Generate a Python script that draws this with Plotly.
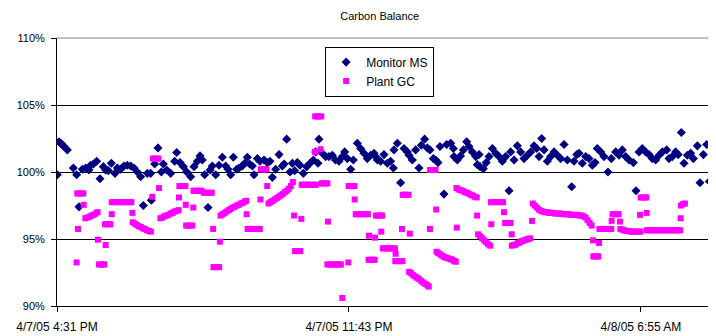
import pandas as pd
import plotly.graph_objects as go

title_text = "Carbon Balance"
start_time = "2005-04-07 16:31"
series_names = ["Monitor MS", "Plant GC"]
tick_minutes = [0, 432, 864]
tick_labels = ["4/7/05 4:31 PM", "4/7/05 11:43 PM", "4/8/05 6:55 AM"]
y_ticks = [90, 95, 100, 105, 110]
y_tick_labels = ["90%", "95%", "100%", "105%", "110%"]

# Monitor MS: minutes after 4:31 PM, value (%)
ms_minutes = [
    0.5, 3, 6.4, 9.4, 15.3, 24.2, 29.1, 32.6, 37.5, 42.4, 47.3, 49.8, 53.8, 58.7, 63.6, 68.6, 72, 76,
    80.4, 85.8, 89.3, 94, 99.1, 104, 109, 113.9, 118.9, 123.8, 127.7, 133.7, 138.6, 139.6, 144.5,
    149.4, 154.4, 157.3, 162.3, 168.2, 174.1, 177.1, 182, 187, 191.9,
    197.8, 202.7, 207.6, 211.6, 215, 218.5, 223.4, 226.4, 229.8, 234.8, 239.7, 244.6, 249.5, 253,
    257, 260.9, 265.8, 269.3, 274.2, 277.7, 281.6, 285, 289, 291.5, 296.4, 300.3, 306.3, 311.2,
    315.1, 318.6, 323.5, 328.5, 333.4, 336, 339.8, 344.7, 348.2, 351.6, 355.6, 359.5, 364.5, 369.4,
    374.3, 379.3, 382.7,
    387.6, 386.1, 392.5, 397.5, 402.4, 407.3, 412, 417.2, 422.1, 425.6, 429.5, 434.5, 438.4, 444.3,
    449.2, 454.2, 459.1, 464, 469, 471.4, 474, 478.8, 483.8, 488.7, 493.6, 497.6, 498.6, 503.5,
    508.4, 513.4, 518.3, 520.8, 525.7, 530.6, 535.5, 539, 543.9, 547.9, 551.8, 556.8, 560.2, 563.7,
    566.6, 572.5, 576.5,
    582.5, 586.4, 587.4, 592.3, 597, 601.2, 606.1, 609.6, 614.5, 619.5, 621.9, 624.4, 625.9, 630.8,
    635, 639.2, 644.1, 649.1, 654, 658.9, 663.8, 668.8, 671.2, 676.2, 681.1, 686, 691, 695.9,
    700.8, 705.8, 709.7, 713.2, 717.1, 720.6, 725.5, 730.4, 735.4, 740.3, 745.2, 750.2, 755.1,
    761.5, 765, 769,
    772.3, 777.2, 782.2, 787.1, 792, 796, 799.4, 804.4, 809.3, 815.2, 820.1, 826.6, 831.5, 836.4,
    841.3, 846.3, 852.7, 856.6, 861.1, 866, 870.9, 875.9, 880.8, 885.7, 890.7, 895.6, 902, 905.5,
    910.4, 915.3, 919, 923.7, 927.7, 932.6, 937.5, 941.5, 947.4, 951.3, 956.3, 961.2, 965.1,
]
ms_values = [
    99.8, 102.25, 102.1, 101.95, 101.65, 100.3, 99.8, 97.4, 100.2, 100.3, 100.15, 100.5, 100.6, 100.8, 99.5, 100.4, 100.15, 100.1,
    100.65, 99.9, 100.3, 100.2, 100.45, 100.5, 100.45, 100.3, 100.0, 99.65, 97.5, 99.9, 99.9, 97.9, 100.6,
    101.8, 100.0, 100.6, 100.15, 99.9, 100.8, 101.45, 100.7, 100.4, 100.0,
    99.65, 100.4, 100.8, 101.2, 100.9, 99.8, 97.35, 100.15, 100.45, 99.8, 100.5, 101.1, 100.45, 100.2,
    99.8, 101.1, 100.2, 100.3, 100.45, 100.65, 101.1, 100.6, 100.45, 99.8, 101.0, 100.8, 100.9, 100.7,
    100.8, 99.6, 100.2, 101.3, 100.45, 100.6, 102.45, 100.0, 100.65, 100.1, 100.7, 100.5, 99.9, 100.4,
    100.65, 100.9, 101.5,
    102.45, 100.65, 101.4, 101.15, 101.15, 101.25, 100.9, 100.8, 101.15, 101.5, 101.0, 100.2, 100.9, 102.15,
    101.75, 101.4, 101.0, 101.25, 101.4, 101.15, 100.9, 100.8, 101.3, 100.65, 100.8, 100.3, 101.65, 102.15,
    99.2, 101.75, 101.5, 101.25, 100.9, 101.65, 100.3, 102.0, 102.45, 101.8, 101.65, 101.0, 100.9, 100.7,
    101.9, 98.35, 102.05,
    102.15, 101.75, 101.15, 100.9, 101.2, 101.65, 102.25, 101.9, 101.5, 101.15, 100.55, 101.3, 100.4, 100.25,
    100.7, 101.15, 101.75, 101.4, 101.15, 100.8, 101.15, 98.6, 101.5, 100.9, 101.95, 101.5, 101.0, 101.25,
    101.5, 101.95, 101.75, 101.15, 102.5, 101.65, 100.8, 101.15, 101.5, 101.25, 101.0, 102.05, 100.9,
    98.9, 100.8, 101.3,
    101.4, 100.65, 101.15, 101.0, 100.5, 100.7, 101.75, 101.5, 101.15, 100.0, 101.0, 101.5, 101.25, 101.65,
    101.15, 100.9, 100.7, 98.6, 101.5, 101.75, 101.5, 101.3, 101.0, 100.9, 101.25, 101.5, 101.65, 101.0,
    101.15, 101.5, 101.3, 102.95, 100.65, 101.25, 101.4, 101.0, 101.95, 99.2, 101.3, 102.05, 99.3,
]

# Plant GC: minutes after 4:31 PM, value (%)
gc_minutes = [
    29, 31, 30, 33, 36, 39, 39.5,
    42, 45, 48, 51, 54, 57, 60, 60.5, 62, 65, 68, 70, 72, 71, 74, 77, 79, 81,
    81, 84, 87, 90, 93, 96, 99, 102, 105, 108, 110, 111.5,
    112, 115, 118, 121, 124, 127, 130, 133, 136, 139, 141,
    142, 145, 148, 150, 151,
    153, 156, 159, 162, 165, 168, 171, 174, 177, 180, 180.5,
    181, 184, 187, 190, 190.5, 191, 194, 197, 200, 201.7,
    202, 205, 208, 211, 214, 217, 220, 223, 226, 229, 231,
    231.5, 234, 237, 240, 241,
    242, 245, 248, 251, 254, 257, 260, 263, 266, 269, 272, 275, 278, 280, 280.6,
    282, 285, 288, 291, 294, 297, 300, 301,
    301.5, 304, 307, 310, 311,
    313, 316, 319, 322, 325, 328, 331, 334, 337, 340, 343, 346, 349, 350.7,
    352, 355, 358, 360, 361.5,
    362, 365, 368, 371, 374, 377, 380, 383, 382.7, 382, 385, 388, 391, 381.7, 390,
    391.5, 394, 397, 400, 400.9,
    400, 403, 406, 409, 412, 415, 418, 420, 422, 431,
    431.5, 434, 437, 440, 440.4,
    442, 445, 448, 451, 454, 457, 460, 461.6,
    461, 464, 467, 470, 470.5,
    472, 475, 478, 481, 479.8,
    482, 485, 488, 491, 494, 497, 500, 501,
    500.5, 503, 506, 509, 511, 510.4,
    511.5, 514, 517, 520, 522,
    521, 524, 527, 530, 533, 536, 539, 542, 545, 548, 550, 551.8,
    552, 555, 558, 560, 561,
    561.5, 564, 567, 570, 573, 576, 579, 582, 585, 588, 590,
    591, 594, 597, 600, 603, 606, 609, 612, 615, 618, 621, 591.5, 621.5,
    623, 626, 629, 632, 635, 638, 641,
    642, 645, 648, 651, 654, 657, 660, 642.6, 661.4,
    663, 666, 669, 671, 672.7,
    673, 676, 679, 682, 685, 688, 691, 694, 697, 700, 702.8,
    704, 707, 710, 713, 716, 719, 722, 725, 728, 731, 734, 737, 740, 743, 746, 749, 752, 755, 758,
    761, 764, 767, 770, 773, 776, 779, 782, 785, 788, 791,
    793, 802, 793.5, 796, 799, 801,
    802.5, 805, 808, 811, 814, 817, 820, 820.6,
    822, 825, 828, 831, 833,
    833.5, 836, 839, 842, 845, 848, 851, 854, 857, 860, 863,
    863.5, 866, 869, 872, 862.6, 872.4,
    872.5, 875, 878, 881, 884, 887, 890, 893, 896, 899, 902, 905, 908, 911, 914, 917, 920, 922, 922.7,
    923, 926, 929,
]
gc_values = [
    93.25, 95.75, 98.4, 98.4, 98.4, 98.4, 97.55,
    96.55, 96.6, 96.65, 96.75, 96.8, 96.9, 97.0, 94.95, 93.1, 93.1, 93.1, 93.1, 94.55, 96.1, 96.1, 96.1, 96.1, 96.85,
    97.75, 97.75, 97.75, 97.75, 97.75, 97.75, 97.75, 97.75, 97.75, 97.75, 97.75, 96.95,
    96.25, 96.15, 96.05, 95.95, 95.9, 95.8, 95.75, 95.65, 95.6, 95.55, 98.15,
    101.0, 101.0, 101.0, 101.0, 98.8,
    96.55, 96.6, 96.7, 96.75, 96.8, 96.9, 96.95, 97.05, 97.1, 97.15, 98.1,
    98.95, 98.95, 98.95, 98.95, 97.55, 96.0, 96.0, 96.0, 96.0, 97.35,
    98.6, 98.6, 98.6, 98.6, 98.6, 98.45, 98.45, 98.45, 98.45, 98.45, 95.75,
    92.9, 92.9, 92.9, 92.9, 94.8,
    96.75, 96.85, 96.95, 97.05, 97.15, 97.25, 97.35, 97.4, 97.5, 97.55, 97.65, 97.7, 97.8, 97.85, 96.85,
    95.75, 95.75, 95.75, 95.75, 95.75, 95.75, 95.75, 97.95,
    100.2, 100.2, 100.2, 100.2, 98.95,
    97.65, 97.75, 97.85, 97.95, 98.05, 98.15, 98.25, 98.35, 98.5, 98.6, 98.75, 98.95, 99.25, 96.75,
    94.1, 94.1, 94.1, 94.1, 96.5,
    99.05, 99.05, 99.05, 99.05, 99.05, 99.05, 99.05, 99.05, 101.5, 104.15, 104.15, 104.15, 104.15, 101.5, 101.7,
    99.15, 99.15, 99.15, 99.15, 96.3,
    93.1, 93.1, 93.1, 93.1, 93.1, 93.1, 93.1, 93.1, 90.6, 93.25,
    98.95, 98.95, 98.95, 98.95, 97.95,
    96.85, 96.85, 96.85, 96.85, 96.85, 96.85, 96.85, 95.25,
    93.45, 93.45, 93.45, 93.45, 95.1,
    96.75, 96.75, 96.75, 96.75, 95.55,
    94.3, 94.3, 94.3, 94.3, 94.3, 94.3, 94.3, 93.9,
    93.35, 93.35, 93.35, 93.35, 93.35, 95.75,
    98.3, 98.3, 98.3, 98.3, 95.4,
    92.55, 92.45, 92.3, 92.2, 92.1, 92.0, 91.85, 91.75, 91.65, 91.55, 91.45, 95.75,
    100.15, 100.15, 100.15, 100.15, 97.2,
    94.05, 93.95, 93.85, 93.75, 93.65, 93.6, 93.55, 93.5, 93.45, 93.35, 93.3,
    98.8, 98.7, 98.65, 98.6, 98.5, 98.45, 98.4, 98.3, 98.25, 98.15, 98.1, 95.85, 96.75,
    95.35, 95.2, 95.05, 94.9, 94.75, 94.6, 94.5,
    97.75, 97.75, 97.75, 97.75, 97.75, 97.75, 97.75, 96.1, 97.0,
    96.2, 96.2, 96.2, 96.2, 95.35,
    94.5, 94.55, 94.6, 94.7, 94.75, 94.85, 94.9, 94.95, 95.0, 95.05, 96.35,
    97.65, 97.5, 97.35, 97.2, 97.1, 97.05, 97.0, 97.0, 96.95, 96.95, 96.95, 96.9, 96.9, 96.9, 96.9, 96.85, 96.85, 96.85, 96.85,
    96.8, 96.8, 96.8, 96.8, 96.75, 96.75, 96.7, 96.6, 96.4, 96.2, 96.0,
    94.9, 94.7, 93.7, 93.7, 93.7, 93.7,
    95.75, 95.75, 95.75, 95.75, 95.75, 95.75, 95.75, 96.35,
    96.85, 96.85, 96.85, 96.85, 96.3,
    95.75, 95.7, 95.65, 95.6, 95.6, 95.55, 95.55, 95.55, 95.55, 95.55, 95.55,
    98.1, 98.1, 98.1, 98.1, 96.8, 96.95,
    95.65, 95.65, 95.65, 95.65, 95.65, 95.65, 95.65, 95.65, 95.65, 95.65, 95.65, 95.65, 95.65, 95.65, 95.65, 95.65, 95.65, 95.65, 96.55,
    97.5, 97.6, 97.65,
]

t0 = pd.Timestamp(start_time)
def to_time(mins):
    return [t0 + pd.Timedelta(minutes=m) for m in mins]

fig = go.Figure()
fig.add_trace(go.Scatter(
    x=to_time(ms_minutes), y=ms_values, mode="markers", name=series_names[0],
    marker=dict(symbol="diamond", size=7, color="#000080"),
))
fig.add_trace(go.Scatter(
    x=to_time(gc_minutes), y=gc_values, mode="markers", name=series_names[1],
    marker=dict(symbol="square", size=6, color="#FF00FF"),
))

font_family = "Liberation Sans, Arial, sans-serif"
# page body has an 8px margin, so the figure is sized/offset to compensate
fig.update_layout(
    width=708, height=328,
    margin=dict(l=49, r=5, t=30, b=30, autoexpand=False),
    paper_bgcolor="white", plot_bgcolor="white",
    title=dict(text=title_text, x=0.525, xanchor="center", y=0.976, yanchor="middle",
               font=dict(family=font_family, size=11, color="black")),
    font=dict(family=font_family, size=11, color="black"),
    showlegend=True,
    legend=dict(x=0.41, y=0.968, xanchor="left", yanchor="top",
                bgcolor="white", bordercolor="black", borderwidth=1,
                font=dict(family=font_family, size=12, color="black"),
                itemwidth=30, tracegroupgap=0),
    xaxis=dict(
        type="date", automargin=False,
        range=[t0, t0 + pd.Timedelta(minutes=967.6)],
        tickvals=to_time(tick_minutes), ticktext=tick_labels,
        showgrid=False, showline=True, linecolor="black", linewidth=1,
        ticks="outside", ticklen=5, tickcolor="black",
        tickfont=dict(size=12), zeroline=False, ticklabelstandoff=5,
    ),
    yaxis=dict(
        automargin=False,
        range=[90, 110], tickvals=y_ticks, ticktext=y_tick_labels,
        showgrid=True, gridcolor="black", gridwidth=1,
        showline=True, linecolor="black", linewidth=1,
        ticks="outside", ticklen=5, tickcolor="black",
        tickfont=dict(size=11), zeroline=False, ticklabelstandoff=4,
    ),
    shapes=[
        dict(type="line", xref="paper", yref="paper", x0=0, x1=1, y0=1, y1=1,
             line=dict(color="#808080", width=1)),
        dict(type="line", xref="paper", yref="paper", x0=1, x1=1, y0=0, y1=1,
             line=dict(color="#808080", width=1)),
    ],
)

fig.write_html("out.html")
